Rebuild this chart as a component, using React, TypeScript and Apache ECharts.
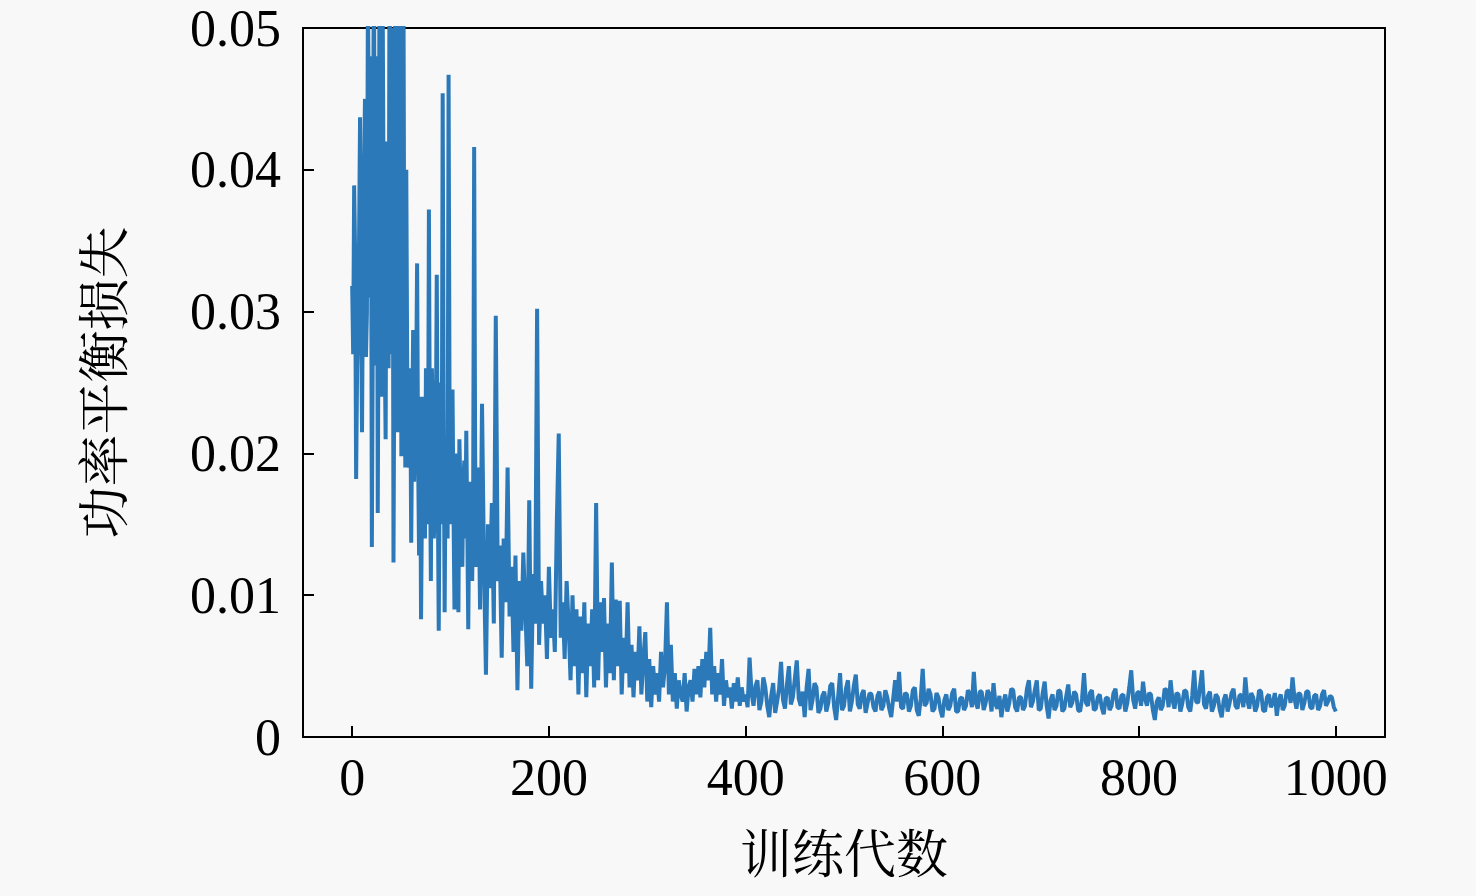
import React, { useEffect, useRef } from "react";
import * as echarts from "echarts";

// Training epochs 0..129, every epoch
const HEAD_START = 0;
const HEAD_STEP = 1;
const HEAD_LOSS = [
  0.0318, 0.027, 0.0389, 0.034, 0.0182, 0.026, 0.0295, 0.035, 0.0437, 0.03,
  0.0215, 0.033, 0.0395, 0.045, 0.0268, 0.03, 0.053, 0.042, 0.031, 0.048,
  0.0134, 0.029, 0.0575, 0.036, 0.0262, 0.048, 0.0158, 0.033, 0.061, 0.042,
  0.024, 0.052, 0.0366, 0.028, 0.021, 0.042, 0.0346, 0.026, 0.056, 0.038,
  0.027, 0.05, 0.0123, 0.03, 0.062, 0.042, 0.0215, 0.03, 0.059, 0.042,
  0.0198, 0.035, 0.057, 0.03, 0.019, 0.04, 0.025, 0.021, 0.019, 0.026,
  0.0137, 0.022, 0.0287, 0.018, 0.023, 0.025, 0.0334, 0.02, 0.0128, 0.024,
  0.0083, 0.017, 0.024, 0.02, 0.014, 0.026, 0.02, 0.015, 0.0372, 0.02,
  0.011, 0.026, 0.0225, 0.014, 0.016, 0.021, 0.0326, 0.018, 0.0075, 0.02,
  0.025, 0.015, 0.0454, 0.023, 0.0088, 0.02, 0.021, 0.014, 0.0467, 0.023,
  0.015, 0.02, 0.0245, 0.016, 0.009, 0.014, 0.02, 0.017, 0.0088, 0.021,
  0.0175, 0.013, 0.012, 0.018, 0.0195, 0.014, 0.0216, 0.015, 0.0076, 0.016,
  0.018, 0.015, 0.011, 0.017, 0.0416, 0.02, 0.012, 0.014, 0.019, 0.015,
];

// Training epochs 130..398, every 2 epochs
const MID_START = 130;
const MID_STEP = 2;
const MID_LOSS = [
  0.009, 0.0235, 0.012, 0.0044, 0.015,
  0.0105, 0.0165, 0.008, 0.0297, 0.011, 0.0135, 0.0056, 0.014, 0.0095, 0.019,
  0.0085, 0.012, 0.006, 0.0128, 0.0033, 0.011, 0.0075, 0.013, 0.009, 0.005,
  0.0167, 0.0034, 0.0115, 0.008, 0.0302, 0.0065, 0.011, 0.008, 0.01, 0.0055,
  0.012, 0.007, 0.009, 0.006, 0.015, 0.0214, 0.007, 0.0095, 0.0055, 0.011,
  0.008, 0.004, 0.01, 0.005, 0.009, 0.003, 0.0085, 0.0045, 0.0095, 0.0028,
  0.008, 0.005, 0.009, 0.0035, 0.0165, 0.004, 0.0095, 0.006, 0.0098, 0.0035,
  0.008, 0.0045, 0.0123, 0.004, 0.0097, 0.005, 0.0096, 0.003, 0.007, 0.0045,
  0.0095, 0.0035, 0.0065, 0.0028, 0.006, 0.004, 0.0078, 0.003, 0.0055, 0.0074,
  0.0025, 0.0055, 0.0021, 0.005, 0.003, 0.0045, 0.0025, 0.006, 0.0035, 0.005,
  0.0095, 0.003, 0.0065, 0.0025, 0.0045, 0.002, 0.004, 0.003, 0.0025, 0.0045,
  0.0018, 0.0035, 0.004, 0.0025, 0.0048, 0.003, 0.005, 0.0028, 0.0055, 0.0035,
  0.006, 0.004, 0.0077, 0.003, 0.005, 0.0025, 0.0045, 0.003, 0.0055, 0.0022,
  0.004, 0.0028, 0.0035, 0.002, 0.0038, 0.0025, 0.0042, 0.0022, 0.0035, 0.0025,
];

// Training epochs 400..1000, every 2 epochs
const LATE_START = 400;
const LATE_STEP = 2;
const LATE_LOSS = [
  0.003, 0.0021, 0.0056, 0.0031, 0.0022, 0.0036, 0.004, 0.0019, 0.0025, 0.0042,
  0.0035, 0.0022, 0.0014, 0.0029, 0.0038, 0.0017, 0.0025, 0.0034, 0.0053, 0.0026,
  0.002, 0.0037, 0.005, 0.0023, 0.0028, 0.0041, 0.0054, 0.0027, 0.0022, 0.0032,
  0.0014, 0.0035, 0.0048, 0.0019, 0.0026, 0.0038, 0.0035, 0.0017, 0.002, 0.0029,
  0.0032, 0.0018, 0.0024, 0.0036, 0.0038, 0.0021, 0.0012, 0.0028, 0.0045, 0.0019,
  0.0022, 0.0034, 0.004, 0.0018, 0.0025, 0.0036, 0.0044, 0.0023, 0.002, 0.003,
  0.0033, 0.0017, 0.0024, 0.0031, 0.003, 0.0021, 0.0018, 0.0029, 0.0032, 0.0019,
  0.0022, 0.0033, 0.0028, 0.002, 0.0014, 0.0027, 0.004, 0.0025, 0.0046, 0.0021,
  0.002, 0.0031, 0.003, 0.0018, 0.0022, 0.0033, 0.0035, 0.0019, 0.0015, 0.0027,
  0.0048, 0.0022, 0.0024, 0.0034, 0.003, 0.0018, 0.002, 0.0031, 0.0028, 0.0019,
  0.0014, 0.0026, 0.003, 0.0019, 0.0022, 0.0031, 0.0034, 0.0018, 0.0018, 0.0027,
  0.0028, 0.0019, 0.0022, 0.0033, 0.003, 0.0021, 0.0046, 0.0024, 0.002, 0.0032,
  0.0032, 0.0019, 0.0024, 0.0033, 0.003, 0.0018, 0.0038, 0.0023, 0.002, 0.0029,
  0.0014, 0.0024, 0.003, 0.0018, 0.0024, 0.0034, 0.0033, 0.0021, 0.0018, 0.0028,
  0.0028, 0.0019, 0.0022, 0.0034, 0.004, 0.0021, 0.0025, 0.0033, 0.004, 0.0019,
  0.002, 0.0031, 0.0039, 0.0022, 0.0013, 0.0026, 0.003, 0.0019, 0.0022, 0.0033,
  0.0032, 0.0018, 0.002, 0.0029, 0.0037, 0.0021, 0.0024, 0.0032, 0.003, 0.0019,
  0.0018, 0.0027, 0.0045, 0.0024, 0.0022, 0.0031, 0.0033, 0.0019, 0.002, 0.0028,
  0.003, 0.0021, 0.0016, 0.0027, 0.0028, 0.0019, 0.0022, 0.0031, 0.0034, 0.0021,
  0.002, 0.0029, 0.003, 0.0018, 0.0024, 0.0035, 0.0047, 0.0026, 0.002, 0.0031,
  0.0032, 0.0022, 0.0039, 0.0027, 0.0022, 0.0031, 0.003, 0.0019, 0.0012, 0.0025,
  0.0028, 0.0019, 0.0022, 0.0034, 0.0033, 0.0021, 0.004, 0.0026, 0.002, 0.0031,
  0.003, 0.0018, 0.0024, 0.0033, 0.0032, 0.0021, 0.0018, 0.0029, 0.0047, 0.0025,
  0.0024, 0.0036, 0.0047, 0.0023, 0.002, 0.0029, 0.0032, 0.0018, 0.0022, 0.003,
  0.0028, 0.0019, 0.0014, 0.0026, 0.003, 0.0018, 0.0024, 0.0031, 0.0034, 0.0022,
  0.002, 0.0029, 0.003, 0.0021, 0.0042, 0.0026, 0.002, 0.0031, 0.0028, 0.0018,
  0.0022, 0.0033, 0.0032, 0.0019, 0.0018, 0.0028, 0.003, 0.0021, 0.0024, 0.0031,
  0.0015, 0.0026, 0.003, 0.0019, 0.0022, 0.0032, 0.0033, 0.0024, 0.0042, 0.0027,
  0.002, 0.0031, 0.003, 0.0019, 0.0024, 0.0032, 0.0032, 0.0021, 0.002, 0.0029,
  0.003, 0.0019, 0.0022, 0.003, 0.0033, 0.0022, 0.0025, 0.0029, 0.0028, 0.0021,
  0.0018,
];

const X_TICKS = [0, 200, 400, 600, 800, 1000];
const X_NAME = "训练代数";
const Y_NAME = "功率平衡损失";

const FONT = "'Liberation Serif', 'Times New Roman', 'Noto Serif CJK SC', 'Noto Sans CJK SC', serif";
const LINE_COLOR = "#2b79b9";
const BG = "#f8f8f8";

function toPoints(values: number[], start: number, step: number): [number, number][] {
  return values.map((v, i) => [start + i * step, v] as [number, number]);
}

export default function App() {
  const ref = useRef<HTMLDivElement>(null);

  useEffect(() => {
    document.body.style.margin = "0";
    document.body.style.background = BG;
    const chart = echarts.init(ref.current!, null, { renderer: "svg" });
    const data: [number, number][] = [
      ...toPoints(HEAD_LOSS, HEAD_START, HEAD_STEP),
      ...toPoints(MID_LOSS, MID_START, MID_STEP),
      ...toPoints(LATE_LOSS, LATE_START, LATE_STEP),
    ];
    chart.setOption({
      animation: false,
      backgroundColor: BG,
      grid: {
        left: 303,
        right: 91,
        top: 28,
        bottom: 159,
        show: true,
        borderColor: "#000",
        borderWidth: 2,
        backgroundColor: "transparent",
      },
      xAxis: {
        type: "value",
        min: -50,
        max: 1050,
        name: X_NAME,
        nameLocation: "middle",
        nameGap: 92,
        nameTextStyle: { fontFamily: FONT, fontSize: 52, color: "#000" },
        axisLine: { show: true, onZero: false, lineStyle: { color: "#000", width: 2 } },
        axisTick: {
          show: true,
          inside: true,
          length: 11,
          lineStyle: { color: "#000", width: 2 },
          customValues: X_TICKS,
        },
        axisLabel: {
          fontFamily: FONT,
          fontSize: 52,
          color: "#000",
          margin: 14,
          customValues: X_TICKS,
          formatter: (v: number) => String(v),
        },
        splitLine: { show: false },
      },
      yAxis: {
        type: "value",
        min: 0,
        max: 0.05,
        interval: 0.01,
        name: Y_NAME,
        nameLocation: "middle",
        nameRotate: 90,
        nameGap: 172,
        nameTextStyle: { fontFamily: FONT, fontSize: 52, color: "#000" },
        axisLine: { show: true, onZero: false, lineStyle: { color: "#000", width: 2 } },
        axisTick: {
          show: true,
          inside: true,
          length: 11,
          lineStyle: { color: "#000", width: 2 },
        },
        axisLabel: {
          fontFamily: FONT,
          fontSize: 52,
          color: "#000",
          margin: 22,
          formatter: (v: number) => (v === 0 ? "0" : v.toFixed(2)),
        },
        splitLine: { show: false },
      },
      series: [
        {
          type: "line",
          data,
          showSymbol: false,
          symbol: "none",
          clip: true,
          lineStyle: { color: LINE_COLOR, width: 4 },
          itemStyle: { color: LINE_COLOR },
        },
      ],
    });
    return () => chart.dispose();
  }, []);

  return <div ref={ref} style={{ width: 1476, height: 896, background: BG }} />;
}
